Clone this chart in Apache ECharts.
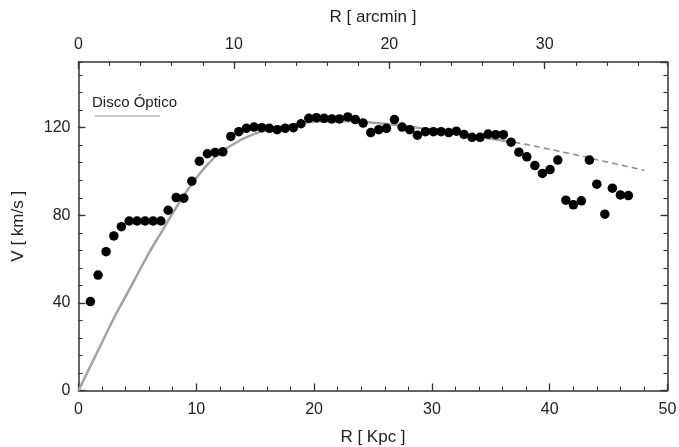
<!DOCTYPE html>
<html>
<head>
<meta charset="utf-8">
<script src="https://cdn.jsdelivr.net/npm/echarts@6/dist/echarts.min.js"></script>
<style>
html,body{margin:0;padding:0;background:#fff;}
#chart{width:679px;height:447px;}
</style>
</head>
<body>
<div id="chart"></div>
<script>
// Observed rotation curve points: R [kpc], V [km/s]
const rObs = [1.01,1.66,2.34,3.0,3.64,4.3,4.97,5.65,6.33,6.99,7.61,8.29,8.94,
  9.62,10.26,10.94,11.6,12.25,12.93,13.61,14.25,14.9,15.56,16.2,16.86,17.54,18.24,18.89,19.55,20.2,20.85,
  21.5,22.15,22.86,23.5,24.16,24.81,25.49,26.14,26.82,27.47,28.12,28.77,29.45,30.13,30.78,31.43,32.08,32.73,
  33.41,34.09,34.77,35.42,36.07,36.72,37.38,38.06,38.74,39.38,40.03,40.69,41.37,42.01,42.69,43.37,44.0,44.68,45.32,46.0,46.68];
const vObs = [40.6,52.7,63.4,70.6,74.8,77.4,77.4,77.4,77.4,77.4,82.3,88.1,87.8,
  95.6,104.7,108.1,108.7,109,116,118.2,119.7,120.3,120,119.7,119.1,119.7,120,121.8,124.3,124.6,124.3,
  124,124,124.9,123.7,122.1,117.8,119.1,119.7,123.7,120.3,119.1,116.6,118.2,118.2,118.2,117.8,118.4,116.9,
  115.6,115.6,117.1,116.8,116.8,113.4,108.8,106.7,102.7,99.1,100.9,105.2,86.9,84.8,86.6,105.2,94.2,80.5,92.4,89.3,89.0];

// Optical disc model (solid part)
const rDisc = [0,1,2,3,4,5,6,7,8,9,10,11,12,13,14,15,16,17,18,19,20,21,22,23,24,25,26,27,28,29,30,31,32,33,34,35,36,37];
const vDisc = [0,11,22,33,43,53,63,72,81,89.5,97,103.5,108.5,112,115,117.3,119,120.4,121.4,122.2,122.7,123,123,122.9,122.7,122.3,121.8,121.2,120.5,119.8,119,118.2,117.4,116.6,115.8,115,114.2,113.4];
// Optical disc model extrapolation (dashed part)
const rDash = [37,38,39,40,41,42,43,44,45,46,47,48];
const vDash = [113.4,112.4,111.3,110.2,109,107.9,106.7,105.4,104.2,103,101.8,100.6];

// Axis tick values
const xTicksKpc = [0,10,20,30,40,50];
const xTicksArcmin = [0,10,20,30];
const yTicks = [0,40,80,120];
const arcminMax = 37.9;
const vMax = 150;

const zip = (a,b) => a.map((x,i)=>[x,b[i]]);
const labelColor = '#222';
const lineColor = '#333';
const font = 'Liberation Sans, Arial, sans-serif';

const chart = echarts.init(document.getElementById('chart'), null, {renderer:'canvas'});
const majorTick = {show:true, inside:true, length:7, lineStyle:{color:lineColor, width:1.3}};
const minorTickShort = {show:true, inside:true, length:4, lineStyle:{color:lineColor, width:1.1}};
const hideLabel = {show:false};
const baseLine = {show:true, onZero:false, lineStyle:{color:lineColor, width:1.5}};
const noLine = {show:false, onZero:false};

chart.setOption({
  animation:false,
  backgroundColor:'#fff',
  textStyle:{fontFamily:font},
  grid:{left:78.5, right:11.5, top:62, bottom:56.5, show:false, containLabel:false, outerBoundsMode:'none'},
  xAxis:[
    {type:'value', position:'bottom', min:0, max:50, interval:10,
     axisLine:baseLine, axisTick:majorTick,
     minorTick:{show:true, splitNumber:5, length:4, lineStyle:{color:lineColor, width:1.1}},
     splitLine:{show:false},
     axisLabel:{color:labelColor, fontSize:16, margin:11, fontFamily:font,
       formatter:v => xTicksKpc.includes(v) ? String(v) : ''},
     name:'R [ Kpc ]', nameLocation:'middle', nameGap:38,
     nameTextStyle:{color:labelColor, fontSize:17, fontFamily:font}},
    {type:'value', position:'top', min:0, max:arcminMax, interval:10,
     axisLine:baseLine, axisTick:majorTick, splitLine:{show:false},
     axisLabel:{color:labelColor, fontSize:16, margin:9, fontFamily:font, showMaxLabel:false,
       formatter:v => xTicksArcmin.includes(v) ? String(v) : ''},
     name:'R [ arcmin ]', nameLocation:'middle', nameGap:36,
     nameTextStyle:{color:labelColor, fontSize:17, fontFamily:font}},
    {type:'value', position:'top', min:0, max:arcminMax, interval:2,
     axisLine:noLine, axisTick:minorTickShort, splitLine:{show:false}, axisLabel:hideLabel}
  ],
  yAxis:[
    {type:'value', position:'left', min:0, max:vMax, interval:40,
     axisLine:baseLine, axisTick:majorTick, splitLine:{show:false},
     axisLabel:{color:labelColor, fontSize:16, margin:8, fontFamily:font, showMaxLabel:false,
       formatter:v => yTicks.includes(v) ? String(v) : ''},
     name:'V [ km/s ]', nameLocation:'middle', nameGap:52,
     nameTextStyle:{color:labelColor, fontSize:17, fontFamily:font}},
    {type:'value', position:'left', min:0, max:vMax, interval:8,
     axisLine:noLine, axisTick:minorTickShort, splitLine:{show:false}, axisLabel:hideLabel},
    {type:'value', position:'right', min:0, max:vMax, interval:40,
     axisLine:baseLine, axisTick:majorTick, splitLine:{show:false}, axisLabel:hideLabel},
    {type:'value', position:'right', min:0, max:vMax, interval:8,
     axisLine:noLine, axisTick:minorTickShort, splitLine:{show:false}, axisLabel:hideLabel}
  ],
  series:[
    {name:'Disco Óptico', type:'line', xAxisIndex:0, yAxisIndex:0, data:zip(rDisc,vDisc),
     smooth:0.3, showSymbol:false, symbol:'none', z:2,
     lineStyle:{color:'#a3a3a3', width:2.5}},
    {name:'Extrapolación', type:'line', xAxisIndex:0, yAxisIndex:0, data:zip(rDash,vDash),
     smooth:0.3, showSymbol:false, symbol:'none', z:2,
     lineStyle:{color:'#888', width:1.5, type:[6,4]}},
    {name:'Observado', type:'scatter', xAxisIndex:0, yAxisIndex:0, data:zip(rObs,vObs),
     symbol:'circle', symbolSize:9.5, z:5,
     itemStyle:{color:'#000', opacity:1}}
  ],
  graphic:[
    {type:'text', left:92, top:95, z:10,
     style:{text:'Disco Óptico', fill:labelColor, font:'15px ' + font}},
    {type:'line', z:10, shape:{x1:95, y1:116, x2:160, y2:116},
     style:{stroke:'#999', lineWidth:1.2}}
  ]
});
</script>
</body>
</html>
